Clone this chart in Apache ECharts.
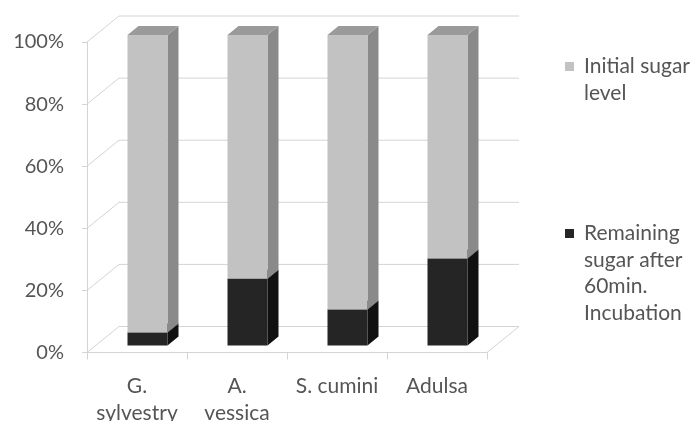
<!DOCTYPE html>
<html>
<head>
<meta charset="utf-8">
<script src="https://cdn.jsdelivr.net/npm/echarts@6/dist/echarts.min.js"></script>
<style>
  html, body { margin: 0; padding: 0; background: #ffffff; }
  #chart { width: 694px; height: 421px; }
</style>
</head>
<body>
<div id="chart"></div>
<script>
// Categories and stacked percentages (each column sums to 100%)
const categories = ['G.\nsylvestry', 'A.\nvessica', 'S. cumini', 'Adulsa'];
const remainingSugar = [4.2, 21.5, 11.6, 28];
const initialSugar = [95.8, 78.5, 88.4, 72];
const seriesNames = ['Initial sugar\nlevel', 'Remaining\nsugar after\n60min.\nIncubation'];
const yTicks = [0, 20, 40, 60, 80, 100];

// 3D look: pixel offsets for the back wall, the bar plane and bar depth
const WALL_DX = 32, WALL_DY = -26;
const PLANE_DX = 10.5, PLANE_DY = -7;
const BAR_DX = 11, BAR_DY = -9;
const BAR_RATIO = 0.4;

const TEXT_COLOR = '#555555';
const FONT = 'Lato, "Open Sans", sans-serif';
const GRID_COLOR = '#d4d4d4';

const LIGHT = { front: '#c2c2c2', side: '#8a8a8a', top: '#9a9a9a' };
const DARK = { front: '#252525', side: '#111111', top: '#1a1a1a' };

function renderWalls(params, api) {
  const v = api.value(1);
  const cs = params.coordSys;
  const p = api.coord([0, v]);
  const y = p[1];
  const left = cs.x, right = cs.x + cs.width;
  const style = { stroke: GRID_COLOR, lineWidth: 1, fill: null };
  const children = [
    { type: 'line', shape: { x1: left, y1: y, x2: left + WALL_DX, y2: y + WALL_DY }, style },
    { type: 'line', shape: { x1: left + WALL_DX, y1: y + WALL_DY, x2: right + WALL_DX, y2: y + WALL_DY }, style }
  ];
  if (v === 0) {
    children.push({ type: 'line', shape: { x1: right, y1: y, x2: right + WALL_DX, y2: y + WALL_DY }, style });
  }
  return { type: 'group', children };
}

function makeBarRenderer(colors) {
  return function (params, api) {
    const i = api.value(0);
    const b = api.coord([i, api.value(1)]);
    const t = api.coord([i, api.value(2)]);
    const band = api.size([1, 0])[0];
    const w = band * BAR_RATIO;
    const x0 = b[0] - w / 2 + PLANE_DX;
    const x1 = x0 + w;
    const yb = b[1] + PLANE_DY;
    const yt = t[1] + PLANE_DY;
    return {
      type: 'group',
      children: [
        { type: 'polygon', shape: { points: [[x1, yt], [x1 + BAR_DX, yt + BAR_DY], [x1 + BAR_DX, yb + BAR_DY], [x1, yb]] }, style: { fill: colors.side } },
        { type: 'polygon', shape: { points: [[x0, yt], [x1, yt], [x1 + BAR_DX, yt + BAR_DY], [x0 + BAR_DX, yt + BAR_DY]] }, style: { fill: colors.top } },
        { type: 'rect', shape: { x: x0, y: yt, width: w, height: yb - yt }, style: { fill: colors.front } }
      ]
    };
  };
}

const chart = echarts.init(document.getElementById('chart'), null, { renderer: 'canvas' });

const option = {
  backgroundColor: '#ffffff',
  animation: false,
  grid: { left: 87, right: 207, top: 42, bottom: 68.5, containLabel: false, outerBoundsMode: 'none' },
  xAxis: {
    type: 'category',
    data: categories,
    axisLine: { show: true, lineStyle: { color: GRID_COLOR, width: 1 } },
    axisTick: { show: true, length: 7, lineStyle: { color: GRID_COLOR } },
    axisLabel: { color: TEXT_COLOR, fontFamily: FONT, fontSize: 21, lineHeight: 27, margin: 20, interval: 0 },
    splitLine: { show: false }
  },
  yAxis: {
    type: 'value',
    min: 0, max: 100, interval: 20,
    axisLine: { show: true, lineStyle: { color: GRID_COLOR, width: 1 } },
    axisTick: { show: true, length: 5, lineStyle: { color: GRID_COLOR } },
    axisLabel: { color: TEXT_COLOR, fontFamily: FONT, fontSize: 20, margin: 23, formatter: '{value}%' },
    splitLine: { show: false }
  },
  graphic: [
    { type: 'rect', left: 565, top: 62, shape: { width: 9, height: 9 }, style: { fill: LIGHT.front } },
    { type: 'text', left: 584, top: 53, style: { text: seriesNames[0], fill: TEXT_COLOR, font: '21px ' + FONT, lineHeight: 27 } },
    { type: 'rect', left: 565, top: 229, shape: { width: 9, height: 9 }, style: { fill: DARK.front } },
    { type: 'text', left: 584, top: 220, style: { text: seriesNames[1], fill: TEXT_COLOR, font: '21px ' + FONT, lineHeight: 26.5 } }
  ],
  series: [
    {
      type: 'custom',
      name: 'walls',
      silent: true,
      renderItem: renderWalls,
      encode: { x: 0, y: 1 },
      data: yTicks.map(v => [0, v]),
      z: 1
    },
    {
      type: 'custom',
      name: seriesNames[1],
      renderItem: makeBarRenderer(DARK),
      encode: { x: 0, y: [1, 2] },
      data: categories.map((c, i) => [i, 0, remainingSugar[i]]),
      z: 2
    },
    {
      type: 'custom',
      name: seriesNames[0],
      renderItem: makeBarRenderer(LIGHT),
      encode: { x: 0, y: [1, 2] },
      data: categories.map((c, i) => [i, remainingSugar[i], remainingSugar[i] + initialSugar[i]]),
      z: 3
    }
  ]
};

chart.setOption(option);
</script>
</body>
</html>
